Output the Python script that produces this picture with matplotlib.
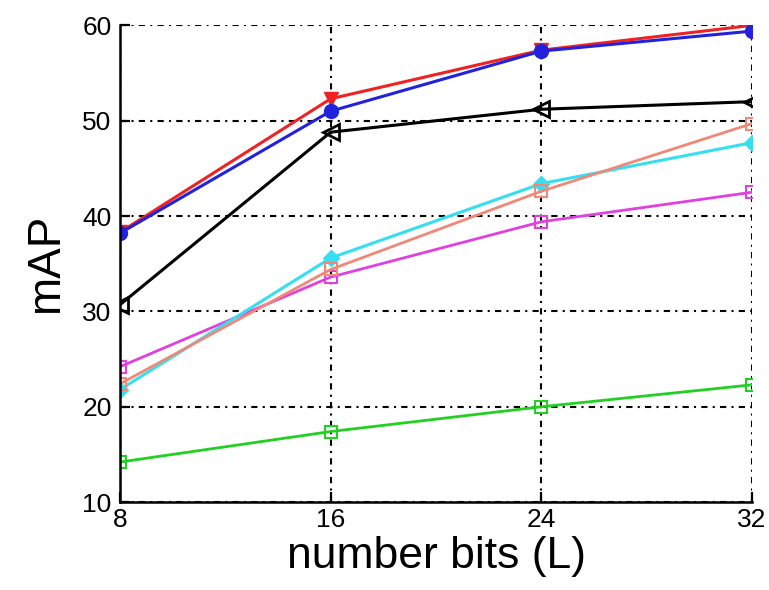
import matplotlib.pyplot as plt

plt.rcParams["font.family"] = ["Liberation Sans", "DejaVu Sans"]

# 符号長 L ごとの mAP
bits = [8, 16, 24, 32]
map_red = [38.3, 52.3, 57.4, 60.0]
map_blue = [38.2, 51.0, 57.3, 59.4]
map_black = [30.7, 48.8, 51.2, 52.0]
map_salmon = [22.4, 34.4, 42.6, 49.7]
map_cyan = [21.8, 35.6, 43.4, 47.7]
map_magenta = [24.2, 33.6, 39.4, 42.5]
map_green = [14.2, 17.4, 20.0, 22.3]

fig = plt.figure(figsize=(7.69, 5.90), dpi=100)
ax = fig.add_axes([0.156, 0.149, 0.822, 0.808])

ax.plot(bits, map_green, color="#22d022", marker="s", mfc="none", ms=9, mew=1.5, lw=2.0)
ax.plot(bits, map_magenta, color="#e040e0", marker="s", mfc="none", ms=9, mew=1.5, lw=2.0)
ax.plot(bits, map_cyan, color="#35dff0", marker="D", ms=8, lw=2.2)
ax.plot(bits, map_salmon, color="#f08878", marker="s", mfc="none", ms=9, mew=1.5, lw=2.0)
ax.plot(bits, map_black, color="black", marker="<", mfc="none", ms=11, mew=2.0, lw=2.2)
ax.plot(bits, map_red, color="#ee2222", marker="v", ms=10, lw=2.2)
ax.plot(bits, map_blue, color="#2222dd", marker="o", ms=10, lw=2.2)

ax.set_xlim(8, 32)
ax.set_ylim(10, 60)
ax.set_xticks(bits)
ax.set_yticks([10, 20, 30, 40, 50, 60])

# MATLAB風の点線グリッドと内向き目盛り
ax.grid(True, color="black", linestyle=(0, (3, 2.5, 1, 2.5)), linewidth=1.5)
ax.set_axisbelow(True)
for side in ("top", "right"):
    ax.spines[side].set_visible(False)
for side in ("left", "bottom"):
    ax.spines[side].set_linewidth(1.8)
ax.tick_params(direction="in", length=7, width=1.6, labelsize=19, pad=4)
ax.tick_params(axis="y", pad=6)

ax.set_xlabel("number bits (L)", fontsize=32, labelpad=3)
ax.set_ylabel("mAP", fontsize=33, labelpad=10)

fig.savefig("out.png", dpi=100)
